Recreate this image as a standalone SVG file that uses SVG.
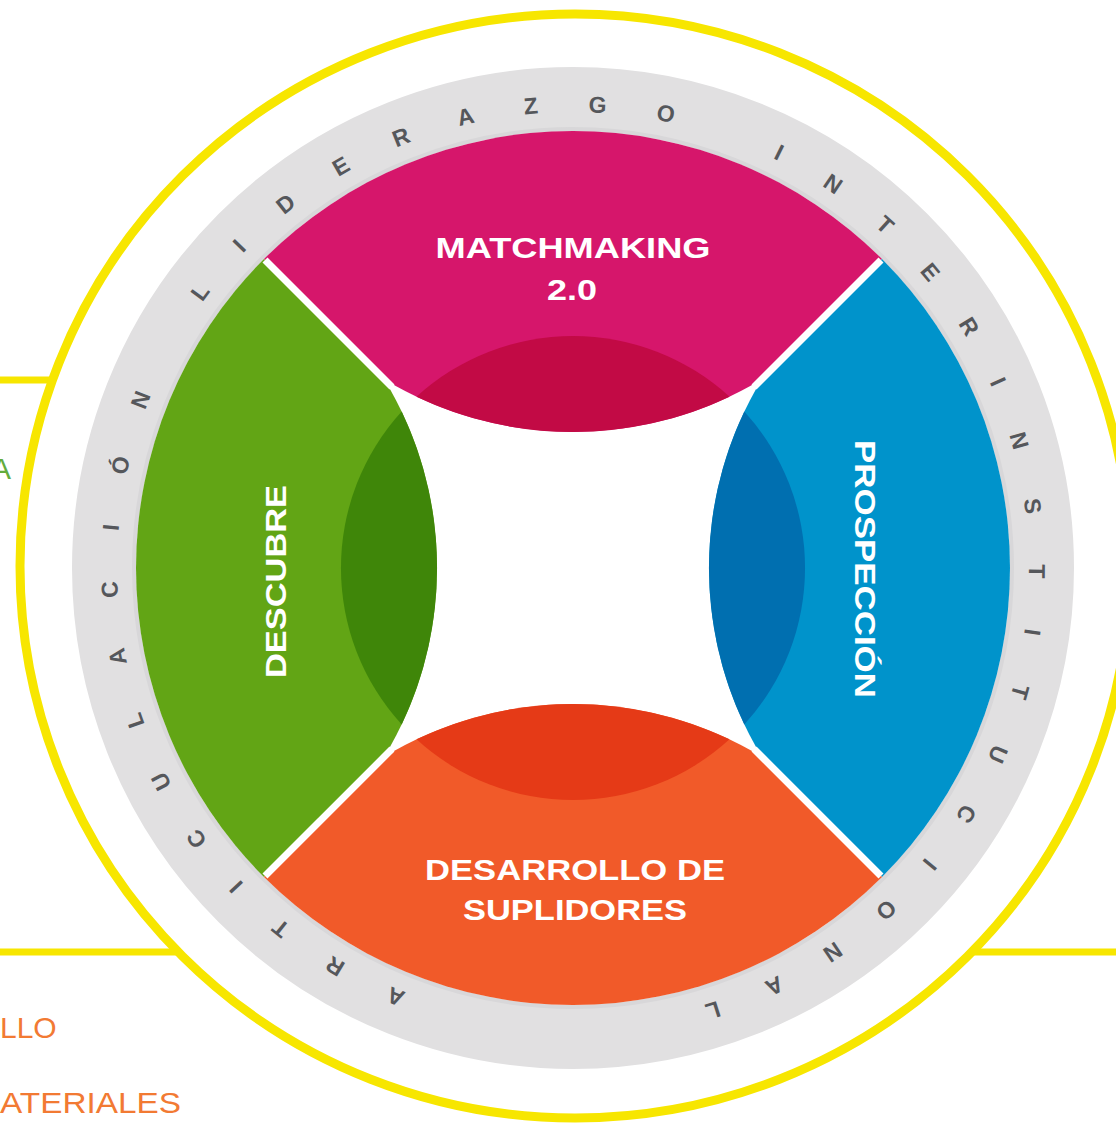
<svg xmlns="http://www.w3.org/2000/svg" width="1116" height="1123" viewBox="0 0 1116 1123">
<defs>
<style>
.lbl{font-family:"Liberation Sans",Arial,sans-serif;font-weight:700;font-size:29px;fill:#ffffff;text-anchor:middle}
.rl{font-family:"Liberation Sans",Arial,sans-serif;font-weight:700;font-size:23px;fill:#55575b;text-anchor:middle}
.side{font-family:"Liberation Sans",Arial,sans-serif;font-weight:400;font-size:30px}
.yl{stroke:#f7e600;fill:none}
.gap{stroke:#ffffff;stroke-width:7}
</style>
</defs>
<rect width="1116" height="1123" fill="#ffffff"/>

<g id="connectors">
<line class="yl" x1="0" y1="380" x2="54" y2="380" stroke-width="7"/>
<line class="yl" x1="0" y1="952" x2="179" y2="952" stroke-width="7"/>
<line class="yl" x1="971" y1="952" x2="1116" y2="952" stroke-width="7"/>
</g>

<g id="frame">
<ellipse class="yl" cx="575" cy="566" rx="555" ry="552" stroke-width="9"/>
</g>

<g id="side-labels">
<text class="side" x="-9" y="479" fill="#64ac3c">A</text>
<text class="side" x="0" y="1038" fill="#f27a33">LLO</text>
<text class="side" x="0" y="1113" fill="#f27a33" textLength="181" lengthAdjust="spacingAndGlyphs">ATERIALES</text>
</g>

<g id="ring">
<circle cx="573" cy="568" r="469" fill="none" stroke="#e1e0e1" stroke-width="64"/>
<circle cx="573" cy="568" r="439" fill="none" stroke="#d8d7d9" stroke-width="4"/>
<g id="ring-letters">
<text class="rl" x="573" y="112" transform="rotate(202.5 573 568)">A</text>
<text class="rl" x="573" y="112" transform="rotate(210.84 573 568)">R</text>
<text class="rl" x="573" y="112" transform="rotate(219.03 573 568)">T</text>
<text class="rl" x="573" y="112" transform="rotate(226.57 573 568)">I</text>
<text class="rl" x="573" y="112" transform="rotate(234.27 573 568)">C</text>
<text class="rl" x="573" y="112" transform="rotate(242.61 573 568)">U</text>
<text class="rl" x="573" y="112" transform="rotate(250.8 573 568)">L</text>
<text class="rl" x="573" y="112" transform="rotate(258.98 573 568)">A</text>
<text class="rl" x="573" y="112" transform="rotate(267.32 573 568)">C</text>
<text class="rl" x="573" y="112" transform="rotate(275.02 573 568)">I</text>
<text class="rl" x="573" y="112" transform="rotate(282.81 573 568)">Ó</text>
<text class="rl" x="573" y="112" transform="rotate(291.23 573 568)">N</text>
<text class="rl" x="573" y="112" transform="rotate(306.48 573 568)">L</text>
<text class="rl" x="573" y="112" transform="rotate(314.02 573 568)">I</text>
<text class="rl" x="573" y="112" transform="rotate(321.72 573 568)">D</text>
<text class="rl" x="573" y="112" transform="rotate(329.99 573 568)">E</text>
<text class="rl" x="573" y="112" transform="rotate(338.25 573 568)">R</text>
<text class="rl" x="573" y="112" transform="rotate(346.59 573 568)">A</text>
<text class="rl" x="573" y="112" transform="rotate(354.77 573 568)">Z</text>
<text class="rl" x="573" y="112" transform="rotate(3.04 573 568)">G</text>
<text class="rl" x="573" y="112" transform="rotate(11.54 573 568)">O</text>
<text class="rl" x="573" y="112" transform="rotate(26.39 573 568)">I</text>
<text class="rl" x="573" y="112" transform="rotate(34.09 573 568)">N</text>
<text class="rl" x="573" y="112" transform="rotate(42.28 573 568)">T</text>
<text class="rl" x="573" y="112" transform="rotate(50.38 573 568)">E</text>
<text class="rl" x="573" y="112" transform="rotate(58.64 573 568)">R</text>
<text class="rl" x="573" y="112" transform="rotate(66.34 573 568)">I</text>
<text class="rl" x="573" y="112" transform="rotate(74.05 573 568)">N</text>
<text class="rl" x="573" y="112" transform="rotate(82.31 573 568)">S</text>
<text class="rl" x="573" y="112" transform="rotate(90.42 573 568)">T</text>
<text class="rl" x="573" y="112" transform="rotate(97.95 573 568)">I</text>
<text class="rl" x="573" y="112" transform="rotate(105.5 573 568)">T</text>
<text class="rl" x="573" y="112" transform="rotate(113.68 573 568)">U</text>
<text class="rl" x="573" y="112" transform="rotate(122.02 573 568)">C</text>
<text class="rl" x="573" y="112" transform="rotate(129.72 573 568)">I</text>
<text class="rl" x="573" y="112" transform="rotate(137.51 573 568)">O</text>
<text class="rl" x="573" y="112" transform="rotate(145.93 573 568)">N</text>
<text class="rl" x="573" y="112" transform="rotate(154.28 573 568)">A</text>
<text class="rl" x="573" y="112" transform="rotate(162.46 573 568)">L</text>
</g>
</g>

<g id="petal-matchmaking">
<path d="M 264 259 A 437 437 0 0 1 882 259 L 761.8 379.2 A 364 364 0 0 1 384.2 379.2 Z" fill="#d6166b"/>
<path d="M 416.5 396.7 A 232 232 0 0 1 729.5 396.7 A 364 364 0 0 1 416.5 396.7 Z" fill="#c20a45"/>
<text class="lbl" x="573" y="258" textLength="275" lengthAdjust="spacingAndGlyphs">MATCHMAKING</text>
<text class="lbl" x="572" y="300" textLength="50" lengthAdjust="spacingAndGlyphs">2.0</text>
</g>

<g id="petal-descubre">
<path d="M 264 877 A 437 437 0 0 1 264 259 L 384.2 379.2 A 364 364 0 0 1 384.2 756.8 Z" fill="#62a515"/>
<path d="M 401.7 724.5 A 232 232 0 0 1 401.7 411.5 A 364 364 0 0 1 401.7 724.5 Z" fill="#3f8609"/>
<text class="lbl" transform="translate(286 581.5) rotate(-90)" x="0" y="0" textLength="193" lengthAdjust="spacingAndGlyphs">DESCUBRE</text>
</g>

<g id="petal-prospeccion">
<path d="M 882 259 A 437 437 0 0 1 882 877 L 761.8 756.8 A 364 364 0 0 1 761.8 379.2 Z" fill="#0093cb"/>
<path d="M 744.3 411.5 A 232 232 0 0 1 744.3 724.5 A 364 364 0 0 1 744.3 411.5 Z" fill="#006fb0"/>
<text class="lbl" transform="translate(855 569) rotate(90)" x="0" y="0" textLength="258" lengthAdjust="spacingAndGlyphs">PROSPECCIÓN</text>
</g>

<g id="petal-desarrollo">
<path d="M 882 877 A 437 437 0 0 1 264 877 L 384.2 756.8 A 364 364 0 0 1 761.8 756.8 Z" fill="#f15a29"/>
<path d="M 729.5 739.3 A 232 232 0 0 1 416.5 739.3 A 364 364 0 0 1 729.5 739.3 Z" fill="#e53a17"/>
<text class="lbl" x="575" y="880" textLength="300" lengthAdjust="spacingAndGlyphs">DESARROLLO DE</text>
<text class="lbl" x="575" y="920" textLength="224" lengthAdjust="spacingAndGlyphs">SUPLIDORES</text>
</g>

<g id="gaps">
<line class="gap" x1="392" y1="387" x2="265" y2="260"/>
<line class="gap" x1="754" y1="387" x2="881" y2="260"/>
<line class="gap" x1="754" y1="749" x2="881" y2="876"/>
<line class="gap" x1="392" y1="749" x2="265" y2="876"/>
</g>
</svg>
